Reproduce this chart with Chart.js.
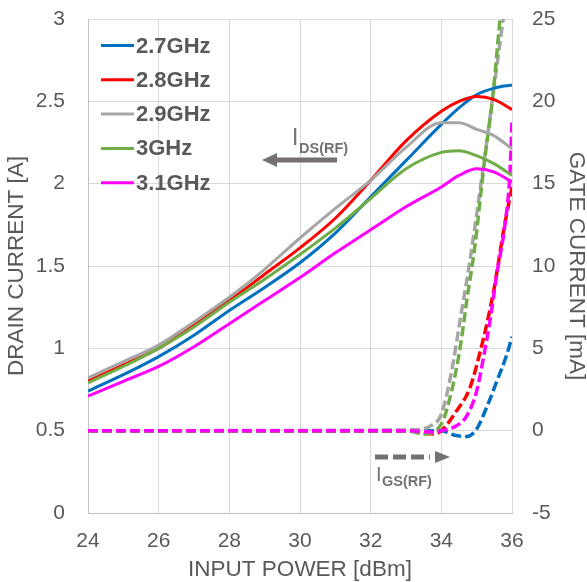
<!DOCTYPE html>
<html>
<head>
<meta charset="utf-8">
<script src="https://cdn.jsdelivr.net/npm/chart.js@4.4.1/dist/chart.umd.min.js"></script>
<style>
html,body{margin:0;padding:0;background:#fff;}
#wrap{width:587px;height:582px;position:relative;}
</style>
</head>
<body>
<div id="wrap"><canvas id="c" width="587" height="582"></canvas></div>
<script>
// ---- data ----
const seriesLabels = ['2.7GHz', '2.8GHz', '2.9GHz', '3GHz', '3.1GHz'];
const seriesColors = ['#0070c0', '#ff0000', '#a6a6a6', '#70ad47', '#ff00ff'];

const drainPower = [24, 25, 26, 27, 28, 29, 30, 31, 32, 33, 34, 34.5, 35, 35.5, 36];
const drain27 = [0.74, 0.84, 0.95, 1.08, 1.23, 1.37, 1.52, 1.70, 1.92, 2.14, 2.36, 2.46, 2.54, 2.58, 2.60];
const drain28 = [0.80, 0.90, 1.00, 1.14, 1.29, 1.45, 1.61, 1.79, 2.02, 2.26, 2.44, 2.50, 2.53, 2.51, 2.45];
const drain29 = [0.82, 0.92, 1.02, 1.16, 1.31, 1.48, 1.67, 1.85, 2.02, 2.22, 2.37, 2.37, 2.33, 2.29, 2.21];
const drain30 = [0.79, 0.89, 1.00, 1.13, 1.28, 1.42, 1.57, 1.73, 1.91, 2.09, 2.19, 2.20, 2.17, 2.12, 2.05];
const drain31 = [0.71, 0.80, 0.89, 1.01, 1.15, 1.29, 1.43, 1.58, 1.72, 1.86, 1.98, 2.05, 2.09, 2.07, 2.01];

const gatePower27 = [24, 33, 34, 34.35, 34.72, 35.0, 35.28, 35.57, 35.85, 36];
const gate27      = [0, 0, 0, -0.26, -0.36, 0.1, 1.4, 3.0, 4.6, 5.7];
const gatePower28 = [24, 33, 33.8, 34, 34.43, 34.81, 35.1, 35.3, 35.5, 35.75, 36];
const gate28      = [0, 0, -0.2, 0, 1.2, 2.6, 4.8, 6.6, 8.7, 12.0, 14.8];
const gatePower29 = [24, 33.2, 33.7, 34, 34.29, 34.53, 34.8, 35.2, 35.5, 35.75];
const gate29      = [0, 0.05, 0.3, 1.0, 3.6, 6.7, 10.2, 16.2, 21, 25];
const gatePower30 = [24, 33, 33.5, 34, 34.29, 34.53, 34.72, 34.95, 35.19, 35.47, 35.66];
const gate30      = [0, 0, -0.2, 0.4, 2.4, 5.0, 7.9, 11.2, 15.8, 20.6, 25];
const gatePower31 = [24, 33, 33.8, 34, 34.43, 34.72, 35.0, 35.19, 35.38, 35.57, 35.8, 35.94, 36];
const gate31      = [0, 0, -0.1, 0, 0.3, 0.9, 2.4, 4.4, 6.7, 9.5, 12.5, 15.6, 18.8];

const xTicks = [24, 26, 28, 30, 32, 34, 36];
// ---- end data ----

const FONT = '"Liberation Sans", Arial, sans-serif';
const TXT = '#595959';
const ANN = '#767171';

function pts(xs, ys) { return xs.map((x, i) => ({x: x, y: ys[i]})); }

const drainSets = [drain27, drain28, drain29, drain30, drain31];
const gateSets = [[gatePower27, gate27], [gatePower28, gate28], [gatePower29, gate29], [gatePower30, gate30], [gatePower31, gate31]];

const datasets = [];
gateSets.forEach((g, i) => {
  datasets.push({
    label: seriesLabels[i] + ' IGS',
    data: pts(g[0], g[1]),
    yAxisID: 'y2',
    borderColor: seriesColors[i],
    borderWidth: 3.5,
    borderDash: [10, 4],
    pointRadius: 0,
    fill: false,
    cubicInterpolationMode: 'monotone',
    order: 10 - i
  });
});
drainSets.forEach((d, i) => {
  datasets.push({
    label: seriesLabels[i],
    data: pts(drainPower, d),
    yAxisID: 'y',
    borderColor: seriesColors[i],
    borderWidth: 3,
    pointRadius: 0,
    fill: false,
    cubicInterpolationMode: 'monotone',
    order: 5 - i
  });
});

const legendPlugin = {
  id: 'inLegend',
  afterDraw(chart) {
    const ctx = chart.ctx;
    ctx.save();
    seriesLabels.forEach((lab, i) => {
      const y = 45.5 + i * 34.3;
      ctx.strokeStyle = seriesColors[i];
      ctx.lineWidth = 3;
      ctx.beginPath();
      ctx.moveTo(101, y);
      ctx.lineTo(134, y);
      ctx.stroke();
      ctx.fillStyle = TXT;
      ctx.font = 'bold 22px ' + FONT;
      ctx.textBaseline = 'middle';
      ctx.textAlign = 'left';
      ctx.fillText(lab, 136, y + 1);
    });
    ctx.restore();
  }
};

const annPlugin = {
  id: 'ann',
  afterDraw(chart) {
    const ctx = chart.ctx;
    ctx.save();
    ctx.fillStyle = ANN;
    ctx.strokeStyle = ANN;
    ctx.lineWidth = 5;
    ctx.beginPath();
    ctx.moveTo(337, 160);
    ctx.lineTo(274, 160);
    ctx.stroke();
    ctx.beginPath();
    ctx.moveTo(262, 160);
    ctx.lineTo(277, 153);
    ctx.lineTo(277, 167);
    ctx.closePath();
    ctx.fill();
    ctx.textBaseline = 'alphabetic';
    ctx.textAlign = 'left';
    ctx.font = '23px ' + FONT;
    ctx.fillText('I', 292, 145);
    ctx.font = 'bold 14.5px ' + FONT;
    ctx.fillText('DS(RF)', 299, 153);

    ctx.lineWidth = 5;
    ctx.setLineDash([13, 5]);
    ctx.beginPath();
    ctx.moveTo(375, 457);
    ctx.lineTo(430, 457);
    ctx.stroke();
    ctx.setLineDash([]);
    ctx.beginPath();
    ctx.moveTo(450, 457);
    ctx.lineTo(435, 451);
    ctx.lineTo(435, 463);
    ctx.closePath();
    ctx.fill();
    ctx.font = '20px ' + FONT;
    ctx.fillText('I', 376, 481);
    ctx.font = 'bold 14.5px ' + FONT;
    ctx.fillText('GS(RF)', 382, 486);
    ctx.restore();
  }
};

new Chart(document.getElementById('c'), {
  type: 'line',
  data: { datasets: datasets },
  plugins: [legendPlugin, annPlugin],
  options: {
    responsive: false,
    animation: false,
    devicePixelRatio: 1,
    layout: { padding: { top: 19, left: 0, right: 0, bottom: 0 } },
    plugins: { legend: { display: false }, tooltip: { enabled: false } },
    scales: {
      x: {
        type: 'linear',
        min: 24, max: 36,
        afterBuildTicks(s) { s.ticks = xTicks.map(v => ({value: v})); },
        afterFit(s) { s.height = 69; s.paddingLeft = 0; s.paddingRight = 0; },
        ticks: { font: { family: FONT, size: 21 }, color: TXT, padding: 16, maxRotation: 0 },
        grid: { color: '#d9d9d9', lineWidth: 1, drawTicks: false },
        border: { color: '#bfbfbf', width: 1 },
        title: { display: true, text: 'INPUT POWER [dBm]', color: TXT, font: { family: FONT, size: 22.5, lineHeight: 1 }, padding: { top: 0, bottom: 1 } }
      },
      y: {
        position: 'left',
        min: 0, max: 3,
        ticks: { stepSize: 0.5, font: { family: FONT, size: 21 }, color: TXT, padding: 23,
                 callback: v => String(Math.round(v * 10) / 10) },
        afterFit(s) { s.width = 88; s.paddingTop = 0; s.paddingBottom = 0; },
        grid: { color: '#d9d9d9', lineWidth: 1, drawTicks: false },
        border: { color: '#bfbfbf', width: 1 },
        title: { display: true, text: 'DRAIN CURRENT [A]', color: TXT, font: { family: FONT, size: 22.5, lineHeight: 1 }, padding: { top: 6, bottom: 0 } }
      },
      y2: {
        position: 'right',
        min: -5, max: 25,
        ticks: { stepSize: 5, font: { family: FONT, size: 21 }, color: TXT, padding: 20 },
        afterFit(s) { s.width = 75; s.paddingTop = 0; s.paddingBottom = 0; },
        grid: { display: false, drawTicks: false },
        border: { display: false },
        title: { display: true, text: 'GATE CURRENT [mA]', color: TXT, font: { family: FONT, size: 22.5, lineHeight: 1 }, padding: { top: 0, bottom: 0 } }
      }
    }
  }
});
</script>
</body>
</html>
